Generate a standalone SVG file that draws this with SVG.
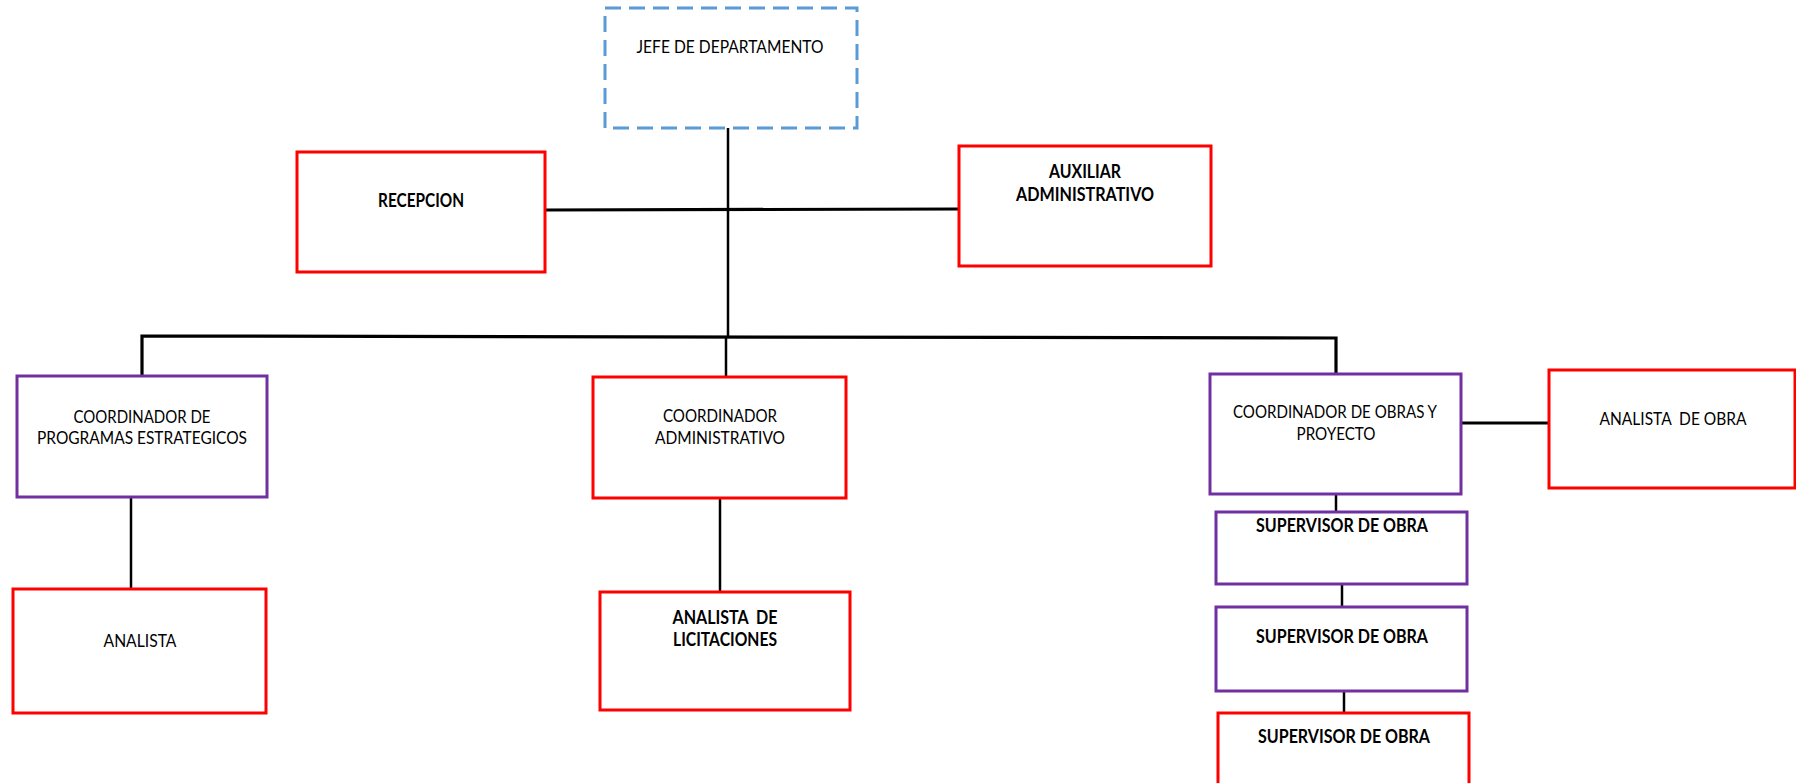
<svg xmlns="http://www.w3.org/2000/svg" width="1796" height="783" viewBox="0 0 1796 783">
<style>
.box{fill:#ffffff;stroke-width:3}
.red{stroke:#FF0000}
.pur{stroke:#7030A0}
.blue{stroke:#5B9BD5;stroke-dasharray:16 8}
.t{font-family:Lato,"Liberation Sans",sans-serif;font-size:18px;fill:#000000;text-anchor:middle}
.b{font-weight:bold}
.ln{stroke:#000000;stroke-width:2.5;fill:none}
.lh{stroke-width:3.2}
</style>
<rect width="1796" height="783" fill="#ffffff"/>
<g id="connectors">
<line class="ln" x1="728" y1="128" x2="728" y2="337"/>
<line class="ln lh" x1="545" y1="210" x2="959" y2="209"/>
<polyline class="ln lh" points="142,376 142,336 1336,338 1336,374"/>
<line class="ln" x1="726" y1="337" x2="726" y2="377"/>
<line class="ln" x1="131" y1="497" x2="131" y2="589"/>
<line class="ln" x1="720" y1="498" x2="720" y2="592"/>
<line class="ln lh" x1="1461" y1="423" x2="1549" y2="423"/>
<line class="ln" x1="1336" y1="494" x2="1336" y2="512"/>
<line class="ln" x1="1342" y1="584" x2="1342" y2="607"/>
<line class="ln" x1="1344" y1="691" x2="1344" y2="716"/>
</g>
<g id="jefe">
<rect class="box blue" x="605" y="8" width="252" height="120"/>
<text class="t" x="730" y="53" textLength="187" lengthAdjust="spacingAndGlyphs">JEFE DE DEPARTAMENTO</text>
</g>
<g id="recepcion">
<rect class="box red" x="297" y="152" width="248" height="120"/>
<text class="t b" x="421" y="207" textLength="86" lengthAdjust="spacingAndGlyphs">RECEPCION</text>
</g>
<g id="auxiliar">
<rect class="box red" x="959" y="146" width="252" height="120"/>
<text class="t b" x="1085" y="178" textLength="72" lengthAdjust="spacingAndGlyphs">AUXILIAR</text>
<text class="t b" x="1085" y="201" textLength="138" lengthAdjust="spacingAndGlyphs">ADMINISTRATIVO</text>
</g>
<g id="coord-programas">
<rect class="box pur" x="17" y="376" width="250" height="121"/>
<text class="t" x="142" y="423" textLength="137" lengthAdjust="spacingAndGlyphs">COORDINADOR DE</text>
<text class="t" x="142" y="444" textLength="210" lengthAdjust="spacingAndGlyphs">PROGRAMAS ESTRATEGICOS</text>
</g>
<g id="coord-admin">
<rect class="box red" x="593" y="377" width="253" height="121"/>
<text class="t" x="720" y="422" textLength="114" lengthAdjust="spacingAndGlyphs">COORDINADOR</text>
<text class="t" x="720" y="444" textLength="130" lengthAdjust="spacingAndGlyphs">ADMINISTRATIVO</text>
</g>
<g id="coord-obras">
<rect class="box pur" x="1210" y="374" width="251" height="120"/>
<text class="t" x="1335" y="418" textLength="204" lengthAdjust="spacingAndGlyphs">COORDINADOR DE OBRAS Y</text>
<text class="t" x="1336" y="440" textLength="79" lengthAdjust="spacingAndGlyphs">PROYECTO</text>
</g>
<g id="analista-obra">
<rect class="box red" x="1549" y="370" width="246" height="118"/>
<text class="t" x="1673" y="425" textLength="147" lengthAdjust="spacingAndGlyphs" xml:space="preserve">ANALISTA  DE OBRA</text>
</g>
<g id="supervisor-1">
<rect class="box pur" x="1216" y="512" width="251" height="72"/>
<text class="t b" x="1342" y="532" textLength="172" lengthAdjust="spacingAndGlyphs">SUPERVISOR DE OBRA</text>
</g>
<g id="supervisor-2">
<rect class="box pur" x="1216" y="607" width="251" height="84"/>
<text class="t b" x="1342" y="643" textLength="172" lengthAdjust="spacingAndGlyphs">SUPERVISOR DE OBRA</text>
</g>
<g id="supervisor-3">
<rect class="box red" x="1218" y="713" width="251" height="100"/>
<text class="t b" x="1344" y="743" textLength="172" lengthAdjust="spacingAndGlyphs">SUPERVISOR DE OBRA</text>
</g>
<g id="analista">
<rect class="box red" x="13" y="589" width="253" height="124"/>
<text class="t" x="140" y="647" textLength="73" lengthAdjust="spacingAndGlyphs">ANALISTA</text>
</g>
<g id="analista-licitaciones">
<rect class="box red" x="600" y="592" width="250" height="118"/>
<text class="t b" x="725" y="624" textLength="105" lengthAdjust="spacingAndGlyphs" xml:space="preserve">ANALISTA  DE</text>
<text class="t b" x="725" y="646" textLength="104" lengthAdjust="spacingAndGlyphs">LICITACIONES</text>
</g>
</svg>
